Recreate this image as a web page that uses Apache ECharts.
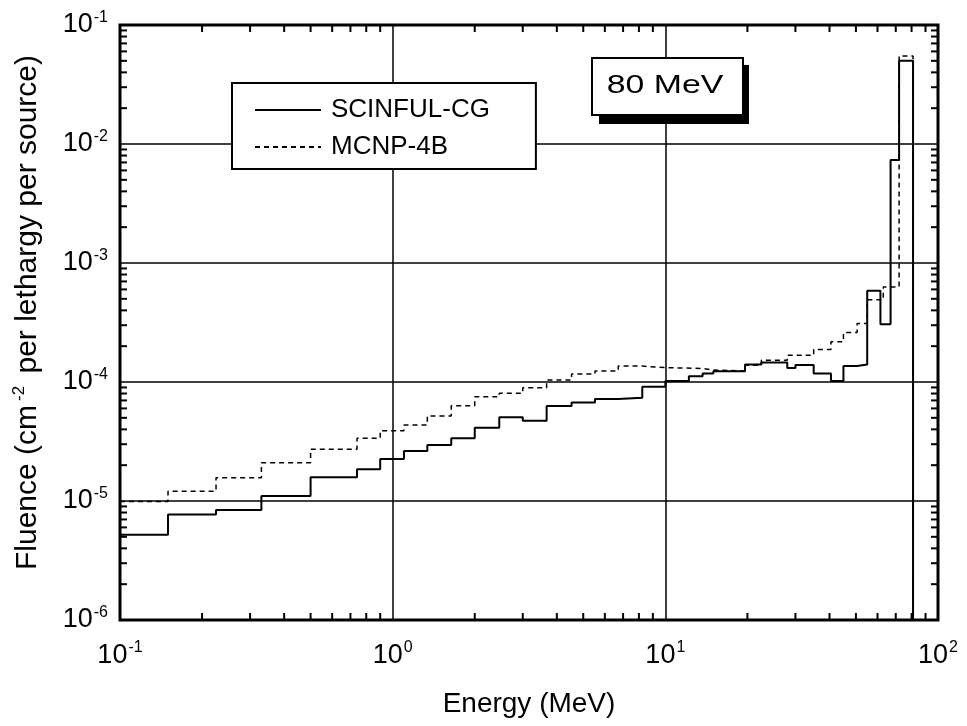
<!DOCTYPE html>
<html>
<head>
<meta charset="utf-8">
<script src="https://cdn.jsdelivr.net/npm/echarts@6/dist/echarts.min.js"></script>
<style>html,body{margin:0;padding:0;background:#fff}#c{width:967px;height:726px}</style>
</head>
<body>
<div id="c"></div>
<script>
// ---- data ----
const seriesNames = ['SCINFUL-CG', 'MCNP-4B'];
// bin edges (MeV) and fluence per bin
const scinfulEdges = [0.1,0.15,0.225,0.33,0.5,0.74,0.9,1.1,1.34,1.64,2.0,2.46,3.0,3.67,4.53,5.52,6.72,8.23,10,12.2,13.7,15,19.6,22.5,28,30,35,40.5,45,50.5,55,61.5,67,72,81];
const scinfulValues = [5.2e-6,7.7e-6,8.4e-6,1.10e-5,1.58e-5,1.85e-5,2.25e-5,2.63e-5,2.96e-5,3.37e-5,4.13e-5,5.05e-5,4.73e-5,6.28e-5,6.74e-5,7.19e-5,7.38e-5,9.13e-5,1.02e-4,1.12e-4,1.18e-4,1.23e-4,1.40e-4,1.46e-4,1.31e-4,1.39e-4,1.18e-4,1.02e-4,1.36e-4,1.40e-4,5.85e-4,3.05e-4,7.35e-3,5.0e-2];
const mcnpEdges = [0.1,0.15,0.225,0.33,0.5,0.74,0.9,1.1,1.34,1.64,2.0,2.46,3.0,3.67,4.53,5.52,6.72,8.23,10,13.7,15,19.6,22.5,28,35,40.5,45,50.5,55,63,72,81];
const mcnpValues = [9.9e-6,1.21e-5,1.57e-5,2.10e-5,2.72e-5,3.37e-5,3.9e-5,4.35e-5,5.18e-5,6.32e-5,7.51e-5,8.03e-5,8.95e-5,1.04e-4,1.17e-4,1.24e-4,1.36e-4,1.32e-4,1.30e-4,1.26e-4,1.24e-4,1.38e-4,1.52e-4,1.68e-4,1.88e-4,2.18e-4,2.6e-4,3.1e-4,4.9e-4,6.3e-4,5.5e-2];
// axes
const xMin = 0.1, xMax = 100;
const yMin = 1e-6, yMax = 0.1;
const xTickExponents = [-1, 0, 1, 2];
const yTickExponents = [-6, -5, -4, -3, -2, -1];
const minorMultipliers = [2,3,4,5,6,7,8,9];
const xTitle = 'Energy (MeV)';
const yTitleParts = ['Fluence (cm', '-2', ' per lethargy per source)'];
const annotation = '80 MeV';

// ---- build ----
function steps(edges, vals, floor) {
  const pts = [];
  for (let i = 0; i < vals.length; i++) {
    pts.push([edges[i], vals[i]]);
    pts.push([edges[i + 1], vals[i]]);
  }
  pts.push([edges[edges.length - 1], floor]);
  return pts;
}
function minorTicks(exps) {
  const out = [];
  for (let i = 0; i < exps.length - 1; i++) {
    const d = Math.pow(10, exps[i]);
    minorMultipliers.forEach(m => out.push(+(m * d).toPrecision(3)));
  }
  return out;
}
const xMinor = minorTicks(xTickExponents);
const yMinor = minorTicks(yTickExponents);

const FONT = '"Liberation Sans", Arial, Helvetica, sans-serif';
function expLabel(v) {
  const e = Math.round(Math.log10(v));
  return '{b|10}{s|' + e + '}';
}
const labelRich = {
  b: { fontSize: 27, fontFamily: FONT, color: '#000' },
  s: { fontSize: 16, fontFamily: FONT, color: '#000', padding: [0, 0, 15, 1] }
};

const chart = echarts.init(document.getElementById('c'), null, { renderer: 'canvas' });
const tickLen = 7;
const option = {
  backgroundColor: '#fff',
  animation: false,
  grid: { left: 120, right: 29, top: 25, bottom: 106, show: true, borderColor: '#000', borderWidth: 3, backgroundColor: 'transparent' },
  legend: {
    data: seriesNames,
    orient: 'vertical',
    left: 232, top: 83,
    backgroundColor: '#fff',
    borderColor: '#000', borderWidth: 2,
    padding: [13, 46, 8, 22],
    itemWidth: 66, itemHeight: 28, itemGap: 9,
    itemStyle: { opacity: 0 },
    textStyle: { fontSize: 26, fontFamily: FONT, color: '#000', lineHeight: 28, padding: [0, 0, 0, 5] },
    selectedMode: false
  },
  xAxis: {
    type: 'log', logBase: 10, min: xMin, max: xMax,
    axisLine: { show: false },
    axisTick: { show: false },
    splitLine: { show: true, lineStyle: { color: '#000', width: 1.5 } },
    axisLabel: { formatter: expLabel, rich: labelRich, margin: 20, color: '#000' },
    name: xTitle, nameLocation: 'middle', nameGap: 70,
    nameTextStyle: { fontSize: 28, fontFamily: FONT, color: '#000' }
  },
  yAxis: {
    type: 'log', logBase: 10, min: yMin, max: yMax,
    axisLine: { show: false },
    axisTick: { show: false },
    splitLine: { show: true, lineStyle: { color: '#000', width: 1.5 } },
    axisLabel: { formatter: expLabel, rich: labelRich, margin: 12, color: '#000' },
    name: '{a|' + yTitleParts[0] + '}{s|' + yTitleParts[1] + '}{a|' + yTitleParts[2] + '}',
    nameLocation: 'middle', nameGap: 76,
    nameTextStyle: {
      padding: [0, 0, 0, 20],
      rich: {
        a: { fontSize: 30, fontFamily: FONT, color: '#000' },
        s: { fontSize: 17, fontFamily: FONT, color: '#000', padding: [0, 4, 16, 4] }
      }
    }
  },
  series: [
    {
      name: seriesNames[0], type: 'line', data: steps(scinfulEdges, scinfulValues, yMin),
      symbol: 'none', lineStyle: { color: '#000', width: 2 }, itemStyle: { color: '#000' }, z: 5
    },
    {
      name: seriesNames[1], type: 'line', data: steps(mcnpEdges, mcnpValues, yMin),
      symbol: 'none', lineStyle: { color: '#000', width: 1.5, type: [5, 4] }, itemStyle: { color: '#000' }, z: 4
    },
    {
      type: 'custom', silent: true, clip: false, z: 6,
      data: xMinor.map(v => [v, yMin]),
      renderItem: function (params, api) {
        const v = api.value(0);
        const b = api.coord([v, yMin]);
        const t = api.coord([v, yMax]);
        const st = { stroke: '#000', lineWidth: 2 };
        return { type: 'group', children: [
          { type: 'line', shape: { x1: b[0], y1: b[1], x2: b[0], y2: b[1] - tickLen }, style: st },
          { type: 'line', shape: { x1: t[0], y1: t[1], x2: t[0], y2: t[1] + tickLen }, style: st }
        ]};
      }
    },
    {
      type: 'custom', silent: true, clip: false, z: 6,
      data: yMinor.map(v => [xMin, v]),
      renderItem: function (params, api) {
        const v = api.value(1);
        const l = api.coord([xMin, v]);
        const r = api.coord([xMax, v]);
        const st = { stroke: '#000', lineWidth: 2 };
        return { type: 'group', children: [
          { type: 'line', shape: { x1: l[0], y1: l[1], x2: l[0] + tickLen, y2: l[1] }, style: st },
          { type: 'line', shape: { x1: r[0], y1: r[1], x2: r[0] - tickLen, y2: r[1] }, style: st }
        ]};
      }
    }
  ],
  graphic: [
    { type: 'rect', left: 599, top: 65, shape: { width: 150, height: 59 }, style: { fill: '#000' }, z: 100 },
    { type: 'rect', left: 591, top: 57, shape: { width: 151, height: 57 }, style: { fill: '#fff', stroke: '#000', lineWidth: 2 }, z: 101 },
    { type: 'text', x: 665, y: 86, scaleX: 1.3, z: 102,
      style: { text: annotation, fontSize: 26, fontFamily: FONT, fill: '#000', align: 'center', verticalAlign: 'middle' } }
  ]
};
chart.setOption(option);
</script>
</body>
</html>
